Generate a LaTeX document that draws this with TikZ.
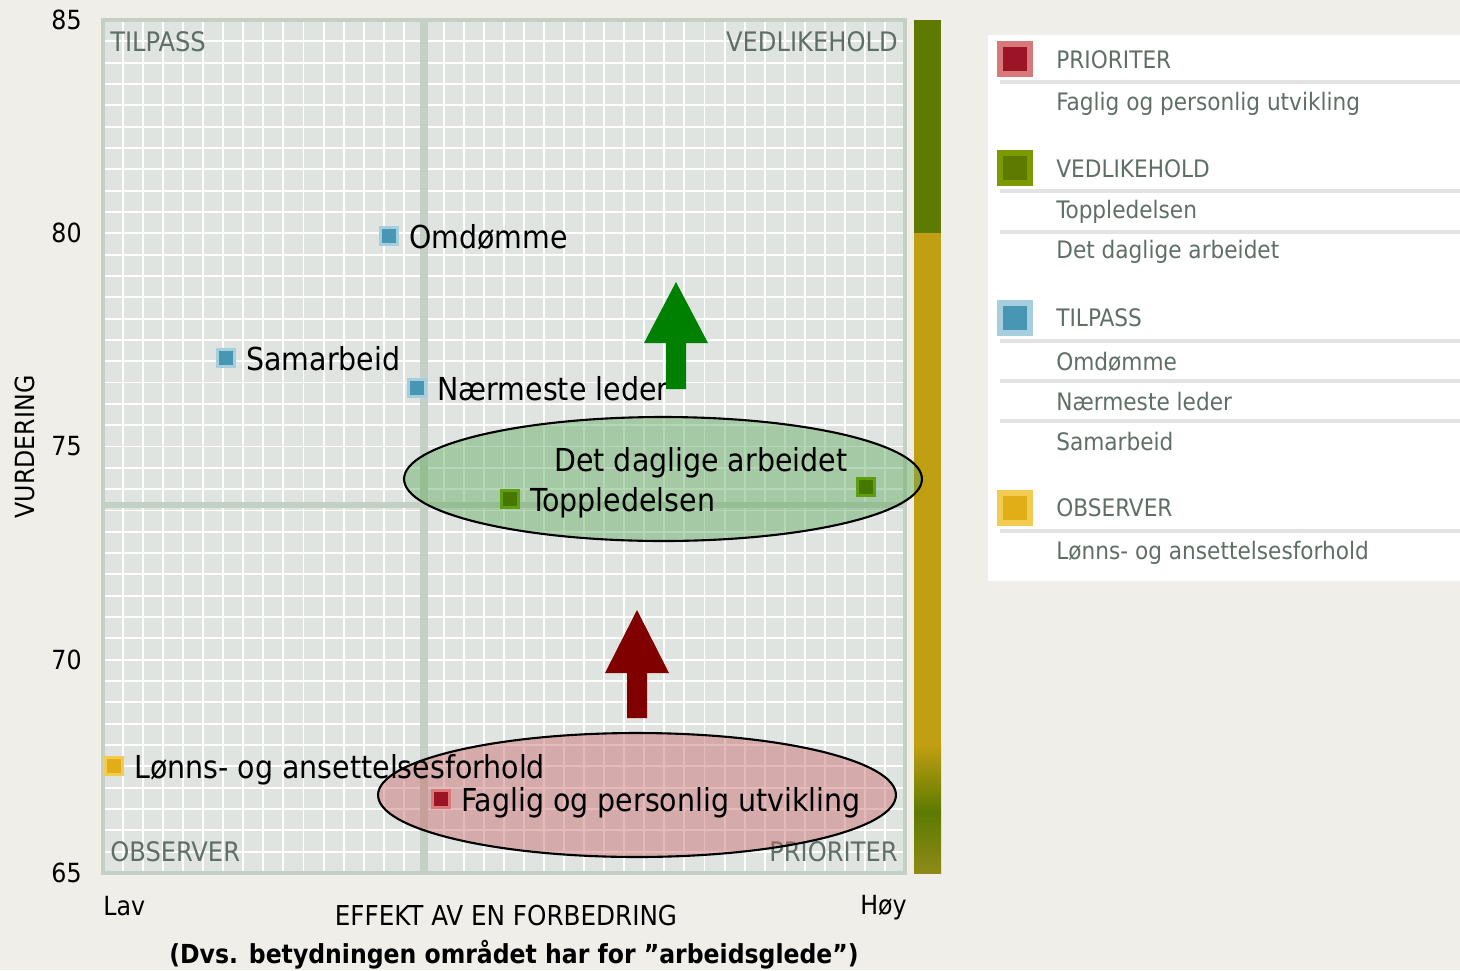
\documentclass[tikz,border=0pt]{standalone}
\usepackage{fontspec}
\setmainfont{DejaVu Sans Condensed}
\usetikzlibrary{positioning,shapes.geometric}

\definecolor{bgc}{HTML}{EFEEE8}
\definecolor{gridc}{HTML}{DFE4E1}
\definecolor{framec}{HTML}{C5D0C5}
\definecolor{quadc}{HTML}{5F6F66}
\definecolor{sepc}{HTML}{E3E3E3}
\definecolor{prio}{HTML}{9B1527}
\definecolor{prioL}{HTML}{D87878}
\definecolor{vedl}{HTML}{5E7A00}
\definecolor{vedlL}{HTML}{7A9A00}
\definecolor{vpt}{HTML}{467800}
\definecolor{vptL}{HTML}{5E9E10}
\definecolor{tilp}{HTML}{4796B4}
\definecolor{tilpL}{HTML}{A6CEDD}
\definecolor{obs}{HTML}{E2AE17}
\definecolor{obsL}{HTML}{F2CB50}
\definecolor{barg}{HTML}{5E7A00}
\definecolor{bargold}{HTML}{C19F12}
\definecolor{barolive}{HTML}{8E8A18}
\definecolor{grpgreen}{HTML}{5FA85C}
\definecolor{grpred}{HTML}{C86468}
\definecolor{arrgreen}{HTML}{008000}
\definecolor{arrred}{HTML}{800000}

\begin{document}
\begin{tikzpicture}[x=0.02cm, y=-0.02cm,
  every node/.style={font=\fontsize{13}{15}\selectfont},
  tick/.style={anchor=east, inner sep=0pt, font=\fontsize{15}{17}\selectfont},
  axis/.style={font=\fontsize{15}{17}\selectfont},
  quad/.style={text=quadc, inner sep=0pt, font=\fontsize{15.3}{17}\selectfont},
  pt/.style={rectangle, fill=#1, draw=#1L, line width=1.2pt, minimum size=0.34cm, inner sep=0pt},
  lbl/.style={inner sep=2pt, text height=0.72em, text depth=0.1em, yshift=-4pt,
    font=\fontsize{18}{20}\selectfont},
  legmark/.style={rectangle, fill=#1, draw=#1L, line width=3.4pt, minimum size=0.6cm, inner sep=0pt},
  legtxt/.style={anchor=west, text=quadc, inner sep=0pt, font=\fontsize{13.7}{15}\selectfont},
  sep/.style={draw=sepc, line width=2.3pt},
  group/.style={ellipse, draw=black, line width=1.2pt, fill=#1, fill opacity=0.45,
    minimum width=10.36cm, minimum height=2.48cm}]

  \useasboundingbox[fill=bgc] (0,0) rectangle (1460,970);

  % plot area
  \fill[gridc] (103,20) rectangle (905,873);
  \foreach \i in {1,...,39}{
    \draw[white, line width=1.1pt] ({103+\i*20.05},20) -- ({103+\i*20.05},873);
    \draw[white, line width=1.1pt] (103,{20+\i*21.325}) -- (905,{20+\i*21.325});
  }
  \draw[framec, line width=2.8pt] (103,20) rectangle (905,873);
  \draw[framec, line width=4pt] (424,20) -- (424,873);
  \draw[framec, line width=3pt] (103,505) -- (905,505);

  % colour bar
  \fill[barg] (914,20) rectangle (941,233);
  \fill[bargold] (914,233) rectangle (941,745);
  \shade[top color=bargold, bottom color=barg] (914,745) rectangle (941,812);
  \shade[top color=barg, bottom color=barolive] (914,812) rectangle (941,873);

  % axes
  \foreach \v in {65,70,...,85}
    \node[tick] (t\v) at (82,{20+(85-\v)*42.65}) {\v};
  \node[axis, rotate=90] (ylab) at (25,447) {VURDERING};
  \node[axis, anchor=west, inner sep=0pt] (lav) at (103,906) {Lav};
  \node[axis, anchor=east, inner sep=0pt] (hoy) at (907,908) {Høy};
  \node[axis, font=\fontsize{15.6}{17}\selectfont] (xlab) at (506,916) {EFFEKT AV EN FORBEDRING};
  \node[font=\bfseries\fontsize{14.9}{17}\selectfont] (xsub) at (514,955)
    {(Dvs. betydningen området har for ”arbeidsglede”)};

  % quadrants
  \node[quad, anchor=west] (qT) at (110,42) {TILPASS};
  \node[quad, anchor=east] (qV) at (898,42) {VEDLIKEHOLD};
  \node[quad, anchor=west] (qO) at (110,852) {OBSERVER};
  \node[quad, anchor=east] (qP) at (898,852) {PRIORITER};

  % groups
  \node[group=grpgreen] (grpV) at (663,479) {};
  \node[group=grpred] (grpP) at (637,795) {};

  % data points
  \node[pt=tilp] (omd) at (389,236) {};
  \node[lbl, right=4pt of omd] (omdL) {Omdømme};
  \node[pt=tilp] (sam) at (226,358) {};
  \node[lbl, right=4pt of sam] (samL) {Samarbeid};
  \node[pt=tilp] (nml) at (417,388) {};
  \node[lbl, right=4pt of nml] (nmlL) {Nærmeste leder};
  \node[pt=vpt] (top) at (510,499) {};
  \node[lbl, right=4pt of top] (topL) {Toppledelsen};
  \node[pt=vpt] (dda) at (866,487) {};
  \node[lbl, above left=4pt and 3pt of dda] (ddaL) {Det daglige arbeidet};
  \node[pt=obs] (lon) at (114,766) {};
  \node[lbl, right=4pt of lon] (lonL) {Lønns- og ansettelsesforhold};
  \node[pt=prio] (fag) at (441,799) {};
  \node[lbl, right=4pt of fag] (fagL) {Faglig og personlig utvikling};

  % block arrows
  \fill[arrgreen] (676,282) -- (708,343) -- (686,343) -- (686,389)
    -- (666,389) -- (666,343) -- (644,343) -- cycle;
  \fill[arrred] (637,610) -- (669,673) -- (647,673) -- (647,718)
    -- (627,718) -- (627,673) -- (605,673) -- cycle;

  % legend
  \fill[white] (988,35) rectangle (1460,581);
  \node[legmark=prio] (mkP) at (1015,59) {};
  \node[legtxt] (lgP) at (1056,60) {PRIORITER};
  \draw[sep] (1000,82) -- (1460,82);
  \node[legtxt] (lgP1) at (1056,104) {Faglig og personlig utvikling};
  \node[legmark=vedl] (mkV) at (1015,168) {};
  \node[legtxt] (lgV) at (1056,169) {VEDLIKEHOLD};
  \draw[sep] (1000,191) -- (1460,191);
  \node[legtxt] (lgV1) at (1056,212) {Toppledelsen};
  \draw[sep] (1000,232) -- (1460,232);
  \node[legtxt] (lgV2) at (1056,252) {Det daglige arbeidet};
  \node[legmark=tilp] (mkT) at (1015,318) {};
  \node[legtxt] (lgT) at (1056,318) {TILPASS};
  \draw[sep] (1000,341) -- (1460,341);
  \node[legtxt] (lgT1) at (1056,362) {Omdømme};
  \draw[sep] (1000,381) -- (1460,381);
  \node[legtxt] (lgT2) at (1056,402) {Nærmeste leder};
  \draw[sep] (1000,421) -- (1460,421);
  \node[legtxt] (lgT3) at (1056,442) {Samarbeid};
  \node[legmark=obs] (mkO) at (1015,508) {};
  \node[legtxt] (lgO) at (1056,508) {OBSERVER};
  \draw[sep] (1000,531) -- (1460,531);
  \node[legtxt] (lgO1) at (1056,553) {Lønns- og ansettelsesforhold};
\end{tikzpicture}
\end{document}
